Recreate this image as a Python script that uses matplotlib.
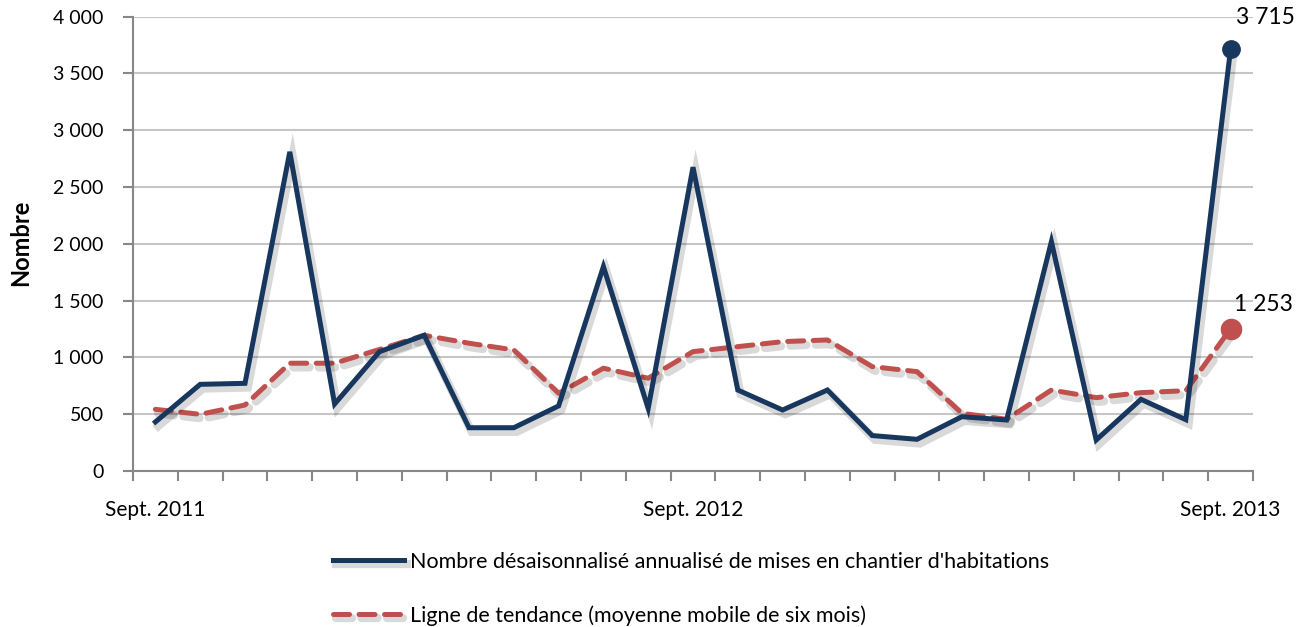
import numpy as np
import matplotlib.pyplot as plt
import matplotlib.patheffects as pe

# ======================================================
# DATA
# ======================================================
months = ["Sept. 2011", "Oct. 2011", "Nov. 2011", "Déc. 2011", "Janv. 2012",
          "Févr. 2012", "Mars 2012", "Avr. 2012", "Mai 2012", "Juin 2012",
          "Juil. 2012", "Août 2012", "Sept. 2012", "Oct. 2012", "Nov. 2012",
          "Déc. 2012", "Janv. 2013", "Févr. 2013", "Mars 2013", "Avr. 2013",
          "Mai 2013", "Juin 2013", "Juil. 2013", "Août 2013", "Sept. 2013"]

mises_en_chantier = [432, 763, 772, 2810, 590, 1050, 1195, 381, 381, 573,
                     1800, 552, 2675, 713, 537, 713, 312, 279, 478, 449,
                     2020, 273, 631, 452, 3715]

tendance = [543, 499, 581, 949, 949, 1070, 1195, 1125, 1066, 684,
            905, 817, 1051, 1095, 1139, 1154, 919, 875, 508, 455,
            713, 646, 690, 707, 1253]

label_idx = [0, 12, 24]

label_main = "Nombre désaisonnalisé annualisé de mises en chantier d'habitations"
label_trend = "Ligne de tendance (moyenne mobile de six mois)"

# ======================================================
# STYLE
# ======================================================
plt.rcParams["font.family"] = ["Lato", "DejaVu Sans"]
navy = "#17375E"
red = "#C0504D"
grid_col = "#C6C6C6"
axis_col = "#878787"

fig = plt.figure(figsize=(13.07, 6.27), dpi=100)
ax = fig.add_axes([133 / 1307, 1 - 471 / 627, (1253 - 133) / 1307, (471 - 16.7) / 627])

x = np.arange(len(months))
shadow = [pe.SimpleLineShadow(offset=(2, -3), shadow_color="black", alpha=0.15, linewidth=6),
          pe.Normal()]

ax.plot(x, mises_en_chantier, color=navy, lw=3.6, solid_joinstyle="miter",
        label=label_main, path_effects=shadow, zorder=4)
ax.plot(x, tendance, color=red, lw=3.6, dashes=(3.2, 1.9), dash_capstyle="round",
        label=label_trend, path_effects=shadow, zorder=3)

# end markers
ax.plot(x[-1], mises_en_chantier[-1], "o", color=navy, ms=12.5, zorder=5)
ax.plot(x[-1], tendance[-1], "o", color=red, ms=14.5, zorder=5)

def fmt(v):
    return f"{v:,}".replace(",", " ")

ax.annotate(fmt(mises_en_chantier[-1]), (x[-1], mises_en_chantier[-1]),
            xytext=(35, 32), textcoords="offset pixels",
            ha="center", va="center", fontsize=16.5)
ax.annotate(fmt(tendance[-1]), (x[-1], tendance[-1]),
            xytext=(33, 24), textcoords="offset pixels",
            ha="center", va="center", fontsize=16.5)

# axes
ax.set_xlim(-0.5, len(months) - 0.5)
ax.set_ylim(0, 4000)
yt = np.arange(0, 4001, 500)
ax.set_yticks(yt)
ax.set_yticklabels([fmt(v) for v in yt], fontsize=14)
ax.set_xticks(label_idx)
ax.set_xticklabels([months[i] for i in label_idx], fontsize=15)
ax.set_xticks(np.arange(-0.5, len(months)), minor=True)
ax.tick_params(axis="x", which="major", length=0, pad=21)
ax.tick_params(axis="x", which="minor", length=7, width=1.5, color=axis_col, direction="out")
ax.tick_params(axis="y", length=7, width=1.5, color=axis_col, direction="out", pad=14)

ax.grid(axis="y", color=grid_col, lw=1.5)
ax.set_axisbelow(True)
for s in ["top", "right"]:
    ax.spines[s].set_visible(False)
for s in ["left", "bottom"]:
    ax.spines[s].set_color(axis_col)
    ax.spines[s].set_linewidth(1.5)

ax.set_ylabel("Nombre", fontsize=17, fontweight="bold")
ax.yaxis.set_label_coords(-0.090, 0.502)

leg = fig.legend(loc="upper left", bbox_to_anchor=(322 / 1307, 1 - 541 / 627),
                 frameon=False, fontsize=15.5, handlelength=3.3, handletextpad=0.3,
                 labelspacing=1.55, borderpad=0)

fig.savefig("out.png", dpi=100)
